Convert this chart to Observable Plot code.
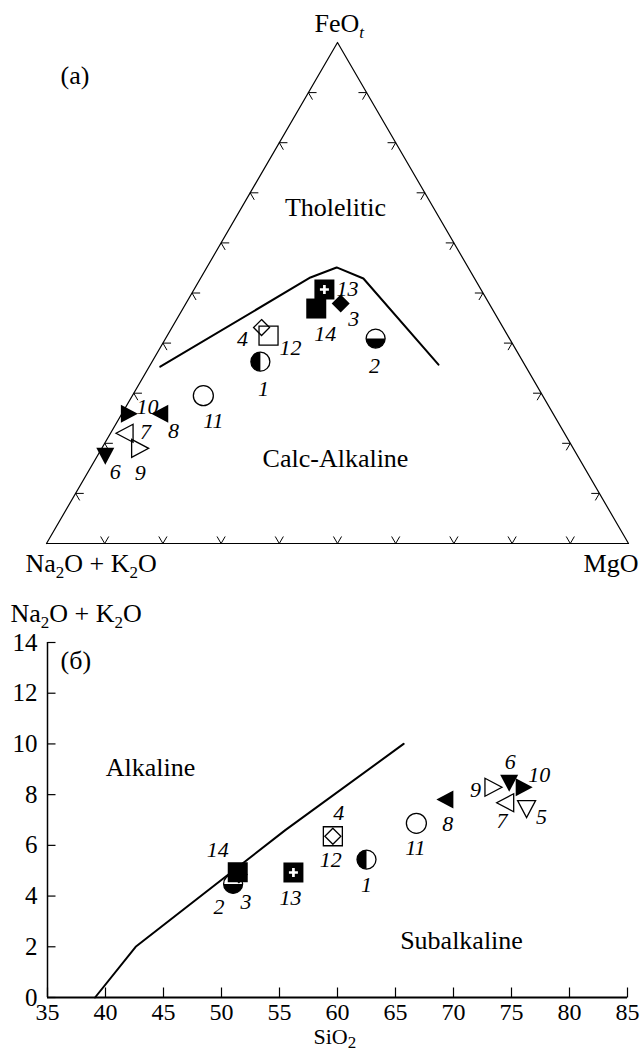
<!DOCTYPE html>
<html><head><meta charset="utf-8">
<script src="https://cdn.jsdelivr.net/npm/d3@7"></script>
<script src="https://cdn.jsdelivr.net/npm/@observablehq/plot@0.6"></script>
<style>
html,body{margin:0;padding:0;background:#fff;}
#wrap{position:relative;width:640px;height:1056px;overflow:hidden;}
#afmBox,#tasBox{position:absolute;left:0;}
#afmBox{top:0}
#tasBox{top:585px}
svg text{font-family:"Liberation Serif","Times New Roman","DejaVu Serif",serif !important;}
</style></head><body><div id="wrap"><div id="afmBox"></div><div id="tasBox"></div></div>
<script>
// ---------- DATA ----------
// (a) AFM ternary: Na2O+K2O (A), FeOt (F), MgO (M), percent
const AFM_IDS = ["1","2","3","4","6","7","8","9","10","11","12","13","14"];
const AFM_ALK = [45.1, 23.0, 25.5, 41.5, 80.9, 75.1, 67.1, 74.9, 73.3, 58.3, 41.1, 26.9, 30.2];
const AFM_FEO = [36.3, 40.9, 47.9, 43.1, 18.0, 22.0, 25.9, 19.0, 25.9, 29.5, 41.5, 50.7, 46.9];
const AFM_MGO = [18.6, 36.1, 26.6, 15.4,  1.1,  2.9,  7.0,  6.1,  0.8, 12.2, 17.4, 22.4, 22.9];
// Tholeiitic / calc-alkaline boundary
const AFM_BOUND_ALK = [62.8, 28.1, 22.6, 19.1, 14.8];
const AFM_BOUND_FEO = [35.3, 53.1, 55.1, 52.9, 35.7];
const AFM_BOUND_MGO = [ 1.9, 18.8, 22.3, 28.0, 49.5];
const AFM_TICKS = [10, 20, 30, 40, 50, 60, 70, 80, 90];

// (б) TAS: SiO2 vs Na2O+K2O
const TAS_IDS  = ["1","2","3","4","5","6","7","8","9","10","11","12","13","14"];
const TAS_SIO2 = [62.5, 51.0, 51.5, 59.6, 76.3, 74.8, 74.7, 69.5, 73.2, 75.85, 66.8, 59.6, 56.2, 51.4];
const TAS_ALK  = [5.44, 4.48, 4.85, 6.36, 7.54, 8.56, 7.68, 7.81, 8.29, 8.29, 6.87, 6.36, 4.93, 4.94];
const TAS_BOUND_SIO2 = [39.1, 42.6, 55.5, 65.7];
const TAS_BOUND_ALK  = [0.0, 2.0, 6.6, 10.0];
const TAS_XTICKS = [35, 40, 45, 50, 55, 60, 65, 70, 75, 80, 85];
const TAS_YTICKS = [0, 2, 4, 6, 8, 10, 12, 14];

// ---------- STYLE ----------
const FONT = "'Liberation Serif', 'Times New Roman', 'DejaVu Serif', serif";
const rOf = s => Math.sqrt(s / Math.PI);
const SYM = {
  square: {draw(c, s) { const r = rOf(s); c.moveTo(-r, -r); c.lineTo(r, -r); c.lineTo(r, r); c.lineTo(-r, r); c.closePath(); }},
  diamond: {draw(c, s) { const r = rOf(s); c.moveTo(0, -r); c.lineTo(r, 0); c.lineTo(0, r); c.lineTo(-r, 0); c.closePath(); }},
  circle: {draw(c, s) { const r = rOf(s); c.moveTo(r, 0); c.arc(0, 0, r, 0, 2 * Math.PI); c.closePath(); }},
  halfLeft: {draw(c, s) { const r = rOf(s); c.moveTo(0, -r); c.arc(0, 0, r, -Math.PI / 2, Math.PI / 2, true); c.closePath(); }},
  halfBottom: {draw(c, s) { const r = rOf(s); c.moveTo(r, 0); c.arc(0, 0, r, 0, Math.PI, false); c.closePath(); }},
  triRight: {draw(c, s) { const r = rOf(s), b = 0.9 * r, d = 1.7 * r; c.moveTo(-d / 3, -b); c.lineTo(2 * d / 3, 0); c.lineTo(-d / 3, b); c.closePath(); }},
  triLeft: {draw(c, s) { const r = rOf(s), b = 0.9 * r, d = 1.7 * r; c.moveTo(d / 3, -b); c.lineTo(-2 * d / 3, 0); c.lineTo(d / 3, b); c.closePath(); }},
  triDown: {draw(c, s) { const r = rOf(s), b = 0.9 * r, d = 1.7 * r; c.moveTo(-b, -d / 3); c.lineTo(b, -d / 3); c.lineTo(0, 2 * d / 3); c.closePath(); }},
  plus: {draw(c, s) { const r = rOf(s), w = 0.3 * r;
    c.moveTo(-w, -r); c.lineTo(w, -r); c.lineTo(w, -w); c.lineTo(r, -w); c.lineTo(r, w); c.lineTo(w, w);
    c.lineTo(w, r); c.lineTo(-w, r); c.lineTo(-w, w); c.lineTo(-r, w); c.lineTo(-r, -w); c.lineTo(-w, -w); c.closePath(); }},
  tickUp: {draw(c, s) { const r = rOf(s); c.moveTo(0, 0); c.lineTo(0, -r); }},
  tickRight: {draw(c, s) { const r = rOf(s); c.moveTo(0, 0); c.lineTo(r, 0); }}
};
function markerStyle(open) {
  return {
    "1": [{sym: "circle", r: 9.5, fill: open, stroke: "black"}, {sym: "halfLeft", r: 9.5, fill: "black"}],
    "2": [{sym: "circle", r: 9.5, fill: open, stroke: "black"}, {sym: "halfBottom", r: 9.5, fill: "black"}],
    "3": [{sym: "diamond", r: 9, fill: "black"}],
    "4": [{sym: "diamond", r: 8, fill: "none", stroke: "black"}],
    "5": [{sym: "triDown", r: 10, fill: open, stroke: "black"}],
    "6": [{sym: "triDown", r: 10, fill: "black"}],
    "7": [{sym: "triLeft", r: 10, fill: open, stroke: "black"}],
    "8": [{sym: "triLeft", r: 10, fill: "black"}],
    "9": [{sym: "triRight", r: 10, fill: open, stroke: "black"}],
    "10": [{sym: "triRight", r: 10, fill: "black"}],
    "11": [{sym: "circle", r: 10, fill: open, stroke: "black"}],
    "12": [{sym: "square", r: 9.5, fill: open, stroke: "black"}],
    "13": [{sym: "square", r: 10, fill: "black"}, {sym: "plus", r: 4.5, fill: "white"}],
    "14": [{sym: "square", r: 10, fill: "black"}]
  };
}
// label offsets (px) from marker center
const AFM_LABEL_OFF = {"1":[3,27],"2":[-1,27],"3":[13,15],"4":[-19,11],"6":[10,19],"7":[18,-1],"8":[11,17],
  "9":[3,25],"10":[21,-7],"11":[10,25],"12":[22,12],"13":[23,-1],"14":[9,25]};
const TAS_LABEL_OFF = {"1":[0,25],"2":[-14,23],"3":[7,27],"4":[6,-23],"5":[15,11],"6":[1,-18],"7":[-6,18],
  "8":[0,24],"9":[-15,3],"10":[18,-12],"11":[-1,25],"12":[-2,24],"13":[-3,25],"14":[-20,-22]};
const AFM_ORDER = ["1","2","4","12","11","14","13","3","10","8","7","9","6"];
const TAS_ORDER = ["12","4","1","11","2","3","14","13","8","9","6","10","5","7"];

// text with subscripts: [text, kind, shift]
const RICH = {
  "FeOt": [["FeO", "n"], ["t", "subi", 6]],
  "Na2O + K2O": [["Na", "n"], ["2", "sub", 6], ["O + K", "n"], ["2", "sub", 6], ["O", "n"]],
  "SiO2": [["SiO", "n"], ["2", "sub", 4]]
};
function richify(svg) {
  d3.select(svg).selectAll("text").each(function() {
    const spec = RICH[this.textContent];
    if (!spec) return;
    const sel = d3.select(this);
    sel.text(null);
    let cur = 0;
    for (const [s, kind, shift] of spec) {
      const target = kind === "n" ? 0 : shift;
      const ts = sel.append("tspan").text(s);
      if (target !== cur) ts.attr("dy", target - cur);
      if (kind !== "n") ts.attr("font-size", "17px");
      if (kind === "subi") ts.attr("font-style", "italic");
      cur = target;
    }
  });
}

// ---------- (a) AFM ----------
const tx = d => d.m + d.f / 2, ty = d => d.f;
const afm = AFM_IDS.map((id, i) => ({id, a: AFM_ALK[i], f: AFM_FEO[i], m: AFM_MGO[i]}));
const afmBound = AFM_BOUND_ALK.map((a, i) => ({a, f: AFM_BOUND_FEO[i], m: AFM_BOUND_MGO[i]}));
const verts = [{a: 100, f: 0, m: 0}, {a: 0, f: 100, m: 0}, {a: 0, f: 0, m: 100}, {a: 100, f: 0, m: 0}];
const TL = 1.4; // tick length in percent
const tickSegs = [];
for (const t of AFM_TICKS) {
  tickSegs.push({p: {a: 100 - t, f: t, m: 0}, q: {a: 100 - t - TL, f: t, m: TL}});
  tickSegs.push({p: {a: 100 - t, f: t, m: 0}, q: {a: 100 - t, f: t - TL, m: TL}});
  tickSegs.push({p: {a: 0, f: t, m: 100 - t}, q: {a: TL, f: t, m: 100 - t - TL}});
  tickSegs.push({p: {a: 0, f: t, m: 100 - t}, q: {a: TL, f: t - TL, m: 100 - t}});
  tickSegs.push({p: {a: 100 - t, f: 0, m: t}, q: {a: 100 - t - TL, f: TL, m: t}});
  tickSegs.push({p: {a: 100 - t, f: 0, m: t}, q: {a: 100 - t, f: TL, m: t - TL}});
}

function markerMarks(data, order, styles, xacc, yacc, offs, sw) {
  const marks = [];
  for (const id of order) {
    const d = data.filter(e => e.id === id);
    for (const p of styles[id]) {
      marks.push(Plot.dot(d, {x: xacc, y: yacc, symbol: SYM[p.sym], r: p.r,
        fill: p.fill, stroke: p.stroke || "none", strokeWidth: sw}));
    }
  }
  for (const id of order) {
    const d = data.filter(e => e.id === id);
    const [dx, dy] = offs[id];
    marks.push(Plot.text(d, {x: xacc, y: yacc, text: "id", dx, dy, fontSize: 22, fontStyle: "italic",
      fontFamily: FONT, fill: "black", textAnchor: "middle", lineAnchor: "middle"}));
  }
  return marks;
}
function note(txt, dx, dy, anchor, extra = {}) {
  return Plot.text([txt], {frameAnchor: "top-left", dx, dy, text: d => d, textAnchor: anchor,
    lineAnchor: "middle", fontSize: 26, fontFamily: FONT, fill: "black", ...extra});
}

const afmPlot = Plot.plot({
  width: 640, height: 585,
  marginTop: 0, marginRight: 0, marginBottom: 0, marginLeft: 0,
  x: {domain: [0, 100], range: [46, 628], axis: null},
  y: {domain: [0, 100], range: [543, 42], axis: null},
  style: {fontFamily: FONT, background: "transparent", overflow: "visible"},
  marks: [
    Plot.line(verts, {x: tx, y: ty, stroke: "black", strokeWidth: 1.2}),
    Plot.link(tickSegs, {x1: d => tx(d.p), y1: d => ty(d.p), x2: d => tx(d.q), y2: d => ty(d.q), stroke: "black", strokeWidth: 1}),
    Plot.line(afmBound, {x: tx, y: ty, stroke: "black", strokeWidth: 2}),
    ...markerMarks(afm, AFM_ORDER, markerStyle("none"), tx, ty, AFM_LABEL_OFF, 1.3),
    note("FeOt", 314, 23, "start"),
    note("(a)", 60, 75, "start"),
    note("Tholelitic", 335, 207, "middle"),
    note("Calc-Alkaline", 335, 458, "middle"),
    note("Na2O + K2O", 25, 563, "start"),
    note("MgO", 638, 563, "end")
  ]
});
richify(afmPlot);
document.getElementById("afmBox").appendChild(afmPlot);

// ---------- (б) TAS ----------
const tas = TAS_IDS.map((id, i) => ({id, s: TAS_SIO2[i], k: TAS_ALK[i]}));
const tasBound = TAS_BOUND_SIO2.map((s, i) => ({s, k: TAS_BOUND_ALK[i]}));
const tasPlot = Plot.plot({
  width: 640, height: 471,
  marginTop: 0, marginRight: 0, marginBottom: 0, marginLeft: 0,
  x: {domain: [35, 85], range: [47, 627], axis: null},
  y: {domain: [0, 14], range: [412, 57], axis: null},
  style: {fontFamily: FONT, background: "transparent", overflow: "visible"},
  marks: [
    Plot.ruleX([35], {y1: 0, y2: 14, stroke: "black", strokeWidth: 1.5}),
    Plot.ruleY([0], {x1: 35, x2: 85, stroke: "black", strokeWidth: 2}),
    Plot.dot(TAS_XTICKS, {x: d => d, y: 0, symbol: SYM.tickUp, r: 10, stroke: "black", strokeWidth: 1.2, fill: "none"}),
    Plot.dot(TAS_YTICKS, {x: 35, y: d => d, symbol: SYM.tickRight, r: 8, stroke: "black", strokeWidth: 1.2, fill: "none"}),
    Plot.text(TAS_XTICKS, {x: d => d, y: 0, dy: 15, text: d => String(d), fontSize: 24, fontFamily: FONT, fill: "black", textAnchor: "middle", lineAnchor: "middle"}),
    Plot.text(TAS_YTICKS, {x: 35, y: d => d, dx: -10, text: d => String(d), fontSize: 25, fontFamily: FONT, fill: "black", textAnchor: "end", lineAnchor: "middle"}),
    Plot.line(tasBound, {x: "s", y: "k", stroke: "black", strokeWidth: 2}),
    ...markerMarks(tas, TAS_ORDER, markerStyle("white"), "s", "k", TAS_LABEL_OFF, 1.3),
    note("Na2O + K2O", 10, 28, "start"),
    note("(б)", 60, 75, "start"),
    note("Alkaline", 150, 182, "middle"),
    note("Subalkaline", 461, 355, "middle"),
    note("SiO2", 313, 451, "start", {fontSize: 22})
  ]
});
richify(tasPlot);
document.getElementById("tasBox").appendChild(tasPlot);
</script></body></html>
